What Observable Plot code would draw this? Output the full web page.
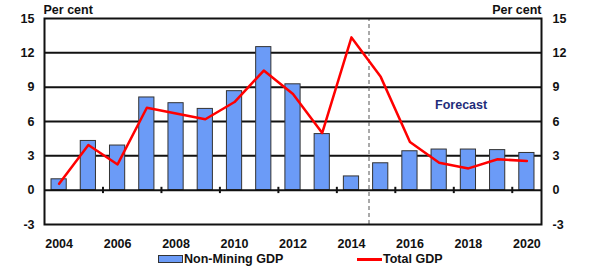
<!DOCTYPE html>
<html>
<head>
<meta charset="utf-8">
<script src="https://cdn.jsdelivr.net/npm/d3@7"></script>
<script src="https://cdn.jsdelivr.net/npm/@observablehq/plot@0.6"></script>
<style>
  body { margin: 0; background: #fff; font-family: "Liberation Sans", Arial, sans-serif; }
  #wrap { width: 602px; position: relative; }
  .legend { display: flex; height: 21px; align-items: center; font: bold 12.5px "Liberation Sans", Arial, sans-serif; color: #111; position: relative; }
  .item { position: absolute; display: flex; align-items: center; top: 2px; }
  .sw-bar { width: 23px; height: 6px; background: #6b9bf7; border: 1px solid #333; margin-right: 1px; }
  .sw-line { width: 25px; height: 3px; background: #ff0000; margin-right: 1px; }
</style>
</head>
<body>
<div id="wrap"></div>
<script>
const years = [2004, 2005, 2006, 2007, 2008, 2009, 2010, 2011, 2012, 2013, 2014, 2015, 2016, 2017, 2018, 2019, 2020];
const nonMiningGDP = [0.95, 4.3, 3.9, 8.1, 7.6, 7.1, 8.65, 12.5, 9.25, 4.9, 1.2, 2.35, 3.4, 3.55, 3.55, 3.5, 3.25];
const totalGDP = [0.55, 3.95, 2.25, 7.2, 6.7, 6.2, 7.7, 10.45, 8.4, 5.0, 13.35, 9.9, 4.2, 2.4, 1.9, 2.7, 2.55];
const yTicks = [-3, 0, 3, 6, 9, 12, 15];
const xLabelYears = [2004, 2006, 2008, 2010, 2012, 2014, 2016, 2018, 2020];
const forecastStart = 2014.6;

const data = years.map((y, i) => ({ year: y, nm: nonMiningGDP[i], tot: totalGDP[i] }));
const boundaries = years.slice(1).filter((y, i) => i % 2 === 0).map(y => y + 0.5);

const font = { fontFamily: "Liberation Sans, Arial, sans-serif", fontWeight: "bold", fontSize: 12.5, fill: "#111" };

const plot = Plot.plot({
  width: 602,
  height: 250,
  marginLeft: 44,
  marginRight: 61,
  marginTop: 18,
  marginBottom: 26,
  style: { fontFamily: "Liberation Sans, Arial, sans-serif", fontSize: "12.5px", fontWeight: "bold", color: "#111", overflow: "visible" },
  x: { domain: [2003.5, 2020.5], axis: null },
  y: { domain: [-3, 15], axis: null },
  marks: [
    Plot.ruleY([3, 6, 9, 12], { stroke: "#111", strokeWidth: 2 }),
    Plot.ruleX([forecastStart], { y1: -3, y2: 15, stroke: "#555", strokeWidth: 1, strokeDasharray: "4,3" }),
    Plot.rectY(data, { x1: d => d.year - 0.26, x2: d => d.year + 0.26, y1: 0, y2: "nm", fill: "#6b9bf7", stroke: "#333", strokeWidth: 1 }),
    Plot.ruleY([0], { stroke: "#111", strokeWidth: 2 }),
    Plot.ruleX(boundaries, { y1: -0.3, y2: 0.25, stroke: "#111", strokeWidth: 2 }),
    Plot.line(data, { x: "year", y: "tot", stroke: "#ff0000", strokeWidth: 2.5 }),
    Plot.frame({ stroke: "#111", strokeWidth: 2 }),
    Plot.text(yTicks, { x: 2003.5, y: d => d, text: d => String(d), textAnchor: "end", dx: -10, ...font }),
    Plot.text(yTicks, { x: 2020.5, y: d => d, text: d => String(d), textAnchor: "start", dx: 11, ...font }),
    Plot.text(xLabelYears, { x: d => d, y: -3, text: d => String(d), dy: 19, ...font }),
    Plot.text(["Per cent"], { x: 2003.5, y: 15, text: d => d, textAnchor: "start", dy: -9, dx: -1, ...font }),
    Plot.text(["Per cent"], { x: 2020.5, y: 15, text: d => d, textAnchor: "end", dy: -9, dx: 0, ...font }),
    Plot.text(["Forecast"], { x: 2017.75, y: 7.4, text: d => d, ...font, fill: "#1f2d7a" })
  ]
});

const wrap = document.getElementById("wrap");
wrap.appendChild(plot);
const legend = document.createElement("div");
legend.className = "legend";
legend.innerHTML = `<div class="item" style="left:158px"><span class="sw-bar"></span>Non-Mining GDP</div>
<div class="item" style="left:357px"><span class="sw-line"></span>Total GDP</div>`;
wrap.appendChild(legend);
</script>
</body>
</html>
